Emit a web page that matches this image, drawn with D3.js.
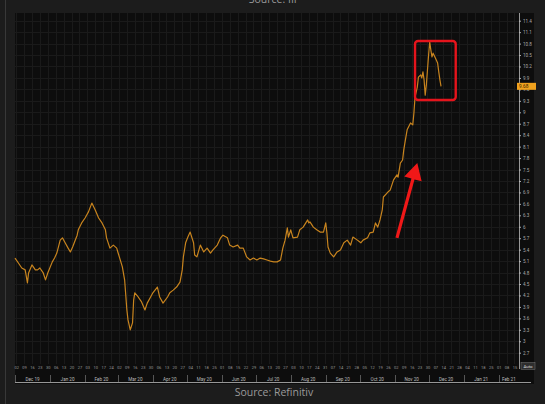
<!DOCTYPE html>
<html><head><meta charset="utf-8">
<script src="https://cdn.jsdelivr.net/npm/d3@7"></script>
<style>html,body{margin:0;padding:0;background:#1c1c1c;overflow:hidden}</style>
</head><body><svg id="c" width="545" height="404"></svg>
<script>
const dates = ["2019-12-01","2019-12-04","2019-12-07","2019-12-10","2019-12-12","2019-12-13","2019-12-16","2019-12-19","2019-12-21","2019-12-23",
"2019-12-26","2019-12-28","2019-12-30","2020-01-03","2020-01-05","2020-01-07","2020-01-10","2020-01-12","2020-01-14","2020-01-17",
"2020-01-19","2020-01-21","2020-01-25","2020-01-26","2020-01-29","2020-02-01","2020-02-04","2020-02-07","2020-02-10","2020-02-13",
"2020-02-16","2020-02-19","2020-02-20","2020-02-23","2020-02-26","2020-02-29","2020-03-01","2020-03-05","2020-03-07","2020-03-09",
"2020-03-10","2020-03-12","2020-03-14","2020-03-15","2020-03-16","2020-03-19","2020-03-22","2020-03-25","2020-03-27","2020-03-30",
"2020-04-01","2020-04-05","2020-04-07","2020-04-10","2020-04-14","2020-04-16","2020-04-19","2020-04-22","2020-04-25","2020-04-27",
"2020-04-28","2020-04-30","2020-05-02","2020-05-04","2020-05-07","2020-05-08","2020-05-10","2020-05-13","2020-05-16","2020-05-19",
"2020-05-22","2020-05-24","2020-05-28","2020-05-31","2020-06-02","2020-06-06","2020-06-08","2020-06-11","2020-06-15","2020-06-17",
"2020-06-20","2020-06-23","2020-06-26","2020-06-29","2020-07-02","2020-07-05","2020-07-08","2020-07-11","2020-07-14","2020-07-17",
"2020-07-20","2020-07-23","2020-07-25","2020-07-27","2020-07-29","2020-07-30","2020-08-01","2020-08-03","2020-08-07","2020-08-09",
"2020-08-12","2020-08-16","2020-08-17","2020-08-18","2020-08-21","2020-08-24","2020-08-27","2020-08-30","2020-09-01","2020-09-02",
"2020-09-03","2020-09-05","2020-09-08","2020-09-11","2020-09-14","2020-09-17","2020-09-20","2020-09-23","2020-09-25","2020-09-29",
"2020-10-02","2020-10-04","2020-10-08","2020-10-10","2020-10-13","2020-10-15","2020-10-17","2020-10-19","2020-10-21","2020-10-22",
"2020-10-26","2020-10-28","2020-10-31","2020-11-03","2020-11-04","2020-11-06","2020-11-08","2020-11-09","2020-11-10","2020-11-12",
"2020-11-15","2020-11-17","2020-11-18","2020-11-19","2020-11-21","2020-11-22","2020-11-24","2020-11-25","2020-11-26","2020-11-27",
"2020-11-28","2020-11-29","2020-11-30","2020-12-01","2020-12-02","2020-12-03","2020-12-04","2020-12-05","2020-12-07","2020-12-09",
"2020-12-10","2020-12-11","2020-12-12"];
const values = [5.18,5.05,4.92,4.87,4.53,4.79,5.00,4.87,4.87,4.92,
4.79,4.61,4.79,5.08,5.18,5.31,5.65,5.71,5.60,5.44,
5.34,5.47,5.78,5.92,6.10,6.23,6.39,6.62,6.44,6.23,
6.10,5.92,5.71,5.44,5.52,5.44,5.34,4.95,4.61,3.82,
3.56,3.30,3.48,4.08,4.27,4.16,4.03,3.82,4.00,4.16,
4.27,4.42,4.16,4.00,4.16,4.27,4.34,4.42,4.55,4.87,
5.21,5.58,5.73,5.86,5.58,5.26,5.21,5.52,5.34,5.44,
5.31,5.39,5.52,5.71,5.78,5.71,5.52,5.47,5.52,5.44,
5.44,5.21,5.13,5.18,5.13,5.18,5.16,5.13,5.10,5.08,
5.08,5.13,5.44,5.65,5.97,5.73,5.92,5.71,5.73,5.92,
5.99,6.18,6.10,6.13,5.99,5.92,5.86,5.86,6.10,5.84,
5.47,5.31,5.21,5.34,5.39,5.58,5.65,5.52,5.73,5.65,
5.58,5.65,5.71,5.84,5.86,6.10,5.99,6.18,6.44,6.78,
6.91,6.96,7.23,7.36,7.30,7.67,7.75,8.01,8.19,8.54,
8.72,8.67,8.98,9.40,9.66,9.92,9.98,9.90,10.06,9.85,
9.45,9.71,10.11,10.50,10.84,10.63,10.45,10.55,10.42,10.29,
10.06,9.85,9.68];
const yTicks = [11.4,11.1,10.8,10.5,10.2,9.9,9.6,9.3,9,8.7,8.4,8.1,7.8,7.5,7.2,6.9,6.6,6.3,6,5.7,5.4,5.1,4.8,4.5,4.2,3.9,3.6,3.3,3,2.7];
const lastLabel = "9.68";
const sourceTop = "Source: IIF";
const sourceBottom = "Source: Refinitiv";
const xDomain = ["2019-12-01","2021-02-19"];
const yDomain = [2.7, 11.4];
const boxDates = ["2020-11-19","2020-12-25"];
const boxValues = [10.87, 9.32];
const arrowTail = ["2020-11-03", 5.71];
const arrowTip = ["2020-11-21", 7.67];

const W = 545, H = 404;
const parse = d3.utcParse("%Y-%m-%d");
const svg = d3.select("#c");
svg.append("rect").attr("width", W).attr("height", H).attr("fill", "#1c1c1c");
svg.append("line").attr("x1", 5.5).attr("x2", 5.5).attr("y1", 0).attr("y2", H).attr("stroke", "#383838");

const P = {l: 15, r: 534, t: 13, b: 384, axisX: 519};
svg.append("rect").attr("x", P.l).attr("y", P.t).attr("width", P.r - P.l).attr("height", P.b - P.t).attr("fill", "#0d0d0d");

const x = d3.scaleUtc().domain(xDomain.map(parse)).range([P.l, P.axisX]);
const y = d3.scaleLinear().domain(yDomain).range([352.7, 20.7]);

// grid
const weeks = d3.utcMonday.range(x.domain()[0], x.domain()[1]);
svg.append("g").selectAll("line").data(weeks).join("line")
  .attr("x1", d => Math.round(x(d)) + 0.5).attr("x2", d => Math.round(x(d)) + 0.5)
  .attr("y1", P.t).attr("y2", 364).attr("stroke", "#1a1a1a").attr("stroke-width", 1);
svg.append("g").selectAll("line").data(yTicks).join("line")
  .attr("x1", P.l).attr("x2", P.axisX).attr("y1", d => Math.round(y(d)) + 0.5).attr("y2", d => Math.round(y(d)) + 0.5)
  .attr("stroke", "#1a1a1a");

// y axis
const yAxis = d3.axisRight(y).tickValues(yTicks).tickSize(2).tickPadding(2).tickFormat(d3.format("~g"));
const gy = svg.append("g").attr("transform", `translate(${P.axisX},0)`).call(yAxis);
gy.select(".domain").remove();
gy.selectAll("line").attr("stroke", "#aaa");
gy.selectAll("text").attr("fill", "#aaa").style("font-size", "4.6px").style("font-family", "Roboto, sans-serif");
svg.append("line").attr("x1", P.axisX + 0.5).attr("x2", P.axisX + 0.5).attr("y1", P.t).attr("y2", 369).attr("stroke", "#bbb").attr("stroke-width", 0.8);

// x axis day labels
const xAxis = d3.axisBottom(x).tickValues(weeks).tickSize(0).tickPadding(1).tickFormat(d3.utcFormat("%d"));
const gx = svg.append("g").attr("transform", "translate(0,365)").call(xAxis);
gx.select(".domain").remove();
gx.selectAll("text").attr("fill", "#999").style("font-size", "4px").style("font-family", "Roboto, sans-serif");

// month row
const months = d3.utcMonth.range(d3.utcMonth.floor(x.domain()[0]), x.domain()[1]);
const d0 = x.domain()[0], d1 = x.domain()[1];
const mg = svg.append("g");
months.forEach(m => {
  const s = m < d0 ? d0 : m;
  const nx = d3.utcMonth.offset(m, 1);
  const e = nx > d1 ? d1 : nx;
  mg.append("text").attr("x", (x(s) + x(e)) / 2).attr("y", 380.5).attr("text-anchor", "middle")
    .attr("fill", "#bbb").style("font-size", "4.6px").style("font-family", "Roboto, sans-serif")
    .text(d3.utcFormat("%b %y")(m));
  if (m >= d0) mg.append("line").attr("x1", Math.round(x(m)) + 0.5).attr("x2", Math.round(x(m)) + 0.5)
    .attr("y1", 375).attr("y2", 382).attr("stroke", "#888").attr("stroke-width", 0.6);
});
svg.append("line").attr("x1", P.l).attr("x2", 531).attr("y1", 382.5).attr("y2", 382.5).attr("stroke", "#bbb").attr("stroke-width", 0.8);

// data line
const data = dates.map((d, i) => ({date: parse(d), v: values[i]}));
svg.append("path").datum(data)
  .attr("fill", "none").attr("stroke", "#c8841e").attr("stroke-width", 1.2).attr("stroke-linejoin", "round")
  .attr("d", d3.line().x(d => x(d.date)).y(d => y(d.v)));

// last value tag
const lv = values[values.length - 1];
svg.append("rect").attr("x", 517).attr("y", y(lv) - 3.5).attr("width", 19).attr("height", 7).attr("fill", "#f0a21e");
svg.append("text").attr("x", 519).attr("y", y(lv) + 1.7).attr("fill", "#3a2500")
  .style("font-size", "4.8px").style("font-family", "Roboto, sans-serif").text(lastLabel);

// Auto button
svg.append("rect").attr("x", 521).attr("y", 362.5).attr("width", 14).attr("height", 7).attr("fill", "#2e2e2e").attr("stroke", "#777").attr("stroke-width", 0.5);
svg.append("text").attr("x", 528).attr("y", 367.8).attr("text-anchor", "middle").attr("fill", "#ddd")
  .style("font-size", "4.4px").style("font-family", "Roboto, sans-serif").text("Auto");

// red box annotation
const bx0 = x(parse(boxDates[0])), bx1 = x(parse(boxDates[1]));
const by0 = y(boxValues[0]), by1 = y(boxValues[1]);
svg.append("rect").attr("x", bx0).attr("y", by0).attr("width", bx1 - bx0).attr("height", by1 - by0)
  .attr("rx", 3).attr("fill", "none").attr("stroke", "#e5141c").attr("stroke-width", 2.4);

// red arrow
const T = [x(parse(arrowTail[0])), y(arrowTail[1])];
const Tp = [x(parse(arrowTip[0])), y(arrowTip[1])];
const dx = Tp[0] - T[0], dy = Tp[1] - T[1], len = Math.hypot(dx, dy);
const u = [dx / len, dy / len], n = [-u[1], u[0]];
const hl = 16.5, hw = 9, sw = 1.6;
const B = [Tp[0] - u[0] * hl, Tp[1] - u[1] * hl];
const pts = [
  [T[0] + n[0] * sw, T[1] + n[1] * sw],
  [B[0] + n[0] * sw, B[1] + n[1] * sw],
  [B[0] + n[0] * hw, B[1] + n[1] * hw],
  Tp,
  [B[0] - n[0] * hw, B[1] - n[1] * hw],
  [B[0] - n[0] * sw, B[1] - n[1] * sw],
  [T[0] - n[0] * sw, T[1] - n[1] * sw]
];
svg.append("path").attr("d", "M" + pts.map(p => p.join(",")).join("L") + "Z").attr("fill", "#f01818");

// source texts
svg.append("text").attr("x", 274).attr("y", 3).attr("text-anchor", "middle").attr("fill", "#9a9a9a")
  .style("font-size", "10.5px").style("font-family", "'Open Sans', sans-serif").text(sourceTop);
svg.append("text").attr("x", 274).attr("y", 396).attr("text-anchor", "middle").attr("fill", "#9a9a9a")
  .style("font-size", "10.5px").style("font-family", "'Open Sans', sans-serif").text(sourceBottom);
</script></body></html>
